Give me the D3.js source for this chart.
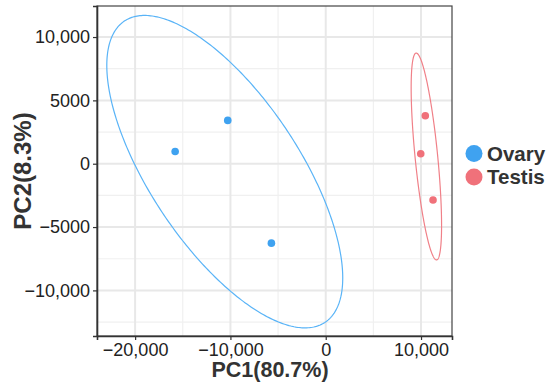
<!DOCTYPE html>
<html>
<head>
<meta charset="utf-8">
<script src="https://cdn.jsdelivr.net/npm/d3@7"></script>
<style>
  body { margin: 0; background: #fff; }
  svg { font-family: "Liberation Sans", Arial, sans-serif; }
</style>
</head>
<body>
<div id="chart"></div>
<script>
const width = 550, height = 391,
  margin = { top: 6, right: 98, bottom: 55, left: 97 };

// PCA scores
const groups = ["Ovary", "Testis"];
const colors = ["#3fa2f0", "#f0717a"];
const ellipseColors = ["#5ab4f7", "#f08088"];
const ovaryPC1 = [-15800, -10280, -5700];
const ovaryPC2 = [970, 3420, -6270];
const testisPC1 = [10450, 9970, 11260];
const testisPC2 = [3790, 790, -2870];

const xTicks = [-20000, -10000, 0, 10000];
const yTicks = [-10000, -5000, 0, 5000, 10000];
const xMinor = [-15000, -5000, 5000];
const yMinor = [-12500, -7500, -2500, 2500, 7500];
const xTitle = "PC1(80.7%)", yTitle = "PC2(8.3%)";

const series = groups.map((name, k) => ({
  name, color: colors[k], line: ellipseColors[k],
  pts: (k === 0 ? ovaryPC1 : testisPC1).map((x, i) => ({ x, y: (k === 0 ? ovaryPC2 : testisPC2)[i] }))
}));

const x = d3.scaleLinear().domain([-24000, 13250]).range([margin.left, width - margin.right]);
const y = d3.scaleLinear().domain([-13600, 12450]).range([height - margin.bottom, margin.top]);

const svg = d3.select("#chart").append("svg")
  .attr("width", width).attr("height", height);

// grid
const grid = svg.append("g");
grid.selectAll(".vminor").data(xMinor).join("line")
  .attr("x1", d => x(d)).attr("x2", d => x(d))
  .attr("y1", margin.top).attr("y2", height - margin.bottom)
  .attr("stroke", "#f0f0f0").attr("stroke-width", 1.2);
grid.selectAll(".hminor").data(yMinor).join("line")
  .attr("y1", d => y(d)).attr("y2", d => y(d))
  .attr("x1", margin.left).attr("x2", width - margin.right)
  .attr("stroke", "#f0f0f0").attr("stroke-width", 1.2);
grid.selectAll(".vmajor").data(xTicks).join("line")
  .attr("x1", d => x(d)).attr("x2", d => x(d))
  .attr("y1", margin.top).attr("y2", height - margin.bottom)
  .attr("stroke", "#e8e8e8").attr("stroke-width", 2);
grid.selectAll(".hmajor").data(yTicks).join("line")
  .attr("y1", d => y(d)).attr("y2", d => y(d))
  .attr("x1", margin.left).attr("x2", width - margin.right)
  .attr("stroke", "#e8e8e8").attr("stroke-width", 2);

// 95% normal data ellipse from each group's covariance
const r = Math.sqrt(5.991);
function ellipse(pts) {
  const n = pts.length;
  const mx = d3.mean(pts, p => p.x), my = d3.mean(pts, p => p.y);
  let sxx = 0, syy = 0, sxy = 0;
  pts.forEach(p => {
    sxx += (p.x - mx) ** 2; syy += (p.y - my) ** 2; sxy += (p.x - mx) * (p.y - my);
  });
  sxx /= n - 1; syy /= n - 1; sxy /= n - 1;
  // cholesky of covariance
  const a = Math.sqrt(sxx), b = sxy / a, c = Math.sqrt(syy - b * b);
  return d3.range(0, 361).map(i => {
    const t = i / 360 * 2 * Math.PI;
    const u = r * Math.cos(t), v = r * Math.sin(t);
    return [mx + a * u, my + b * u + c * v];
  });
}

const line = d3.line().x(d => x(d[0])).y(d => y(d[1]));
svg.append("g").selectAll("path").data(series).join("path")
  .attr("d", d => line(ellipse(d.pts)))
  .attr("fill", "none")
  .attr("stroke", d => d.line)
  .attr("stroke-width", 1.2);

svg.append("g").selectAll("g").data(series).join("g")
  .attr("fill", d => d.color)
  .selectAll("circle").data(d => d.pts).join("circle")
  .attr("cx", d => x(d.x)).attr("cy", d => y(d.y)).attr("r", 3.8);

// panel border
svg.append("rect")
  .attr("x", margin.left).attr("y", margin.top)
  .attr("width", width - margin.right - margin.left)
  .attr("height", height - margin.bottom - margin.top)
  .attr("fill", "none").attr("stroke", "#444").attr("stroke-width", 1.2);

const fmt = d => Math.abs(d) >= 10000 ? d3.format(",")(d).replace("-", "\u2212") : String(d).replace("-", "\u2212");

const xAxis = svg.append("g")
  .attr("transform", `translate(0,${height - margin.bottom})`)
  .call(d3.axisBottom(x).tickValues(xTicks).tickFormat(fmt).tickSize(4).tickPadding(3));
const yAxis = svg.append("g")
  .attr("transform", `translate(${margin.left},0)`)
  .call(d3.axisLeft(y).tickValues(yTicks).tickFormat(fmt).tickSize(4).tickPadding(3));
[xAxis, yAxis].forEach(g => {
  g.select(".domain").attr("stroke", "#333").attr("stroke-width", 1.6);
  g.selectAll(".tick line").attr("stroke", "#333").attr("stroke-width", 1.2);
  g.selectAll("text").attr("font-size", 18).attr("fill", "#222")
    .attr("font-family", "Liberation Sans, Arial, sans-serif");
});

svg.append("text")
  .attr("x", 270).attr("y", 377)
  .attr("text-anchor", "middle").attr("font-size", 21.5).attr("font-weight", "bold")
  .attr("fill", "#333").text(xTitle);
svg.append("text")
  .attr("transform", `translate(31,${(margin.top + height - margin.bottom) / 2}) rotate(-90)`)
  .attr("text-anchor", "middle").attr("font-size", 24).attr("font-weight", "bold")
  .attr("fill", "#333").text(yTitle);

// legend
const legend = svg.append("g").selectAll("g").data(series).join("g")
  .attr("transform", (d, i) => `translate(474,${153.5 + i * 23.5})`);
legend.append("circle").attr("r", 8.5).attr("fill", d => d.color);
legend.append("text").attr("x", 13).attr("y", 7)
  .attr("font-size", 20.5).attr("font-weight", "bold").attr("fill", "#333")
  .text(d => d.name);
</script>
</body>
</html>
